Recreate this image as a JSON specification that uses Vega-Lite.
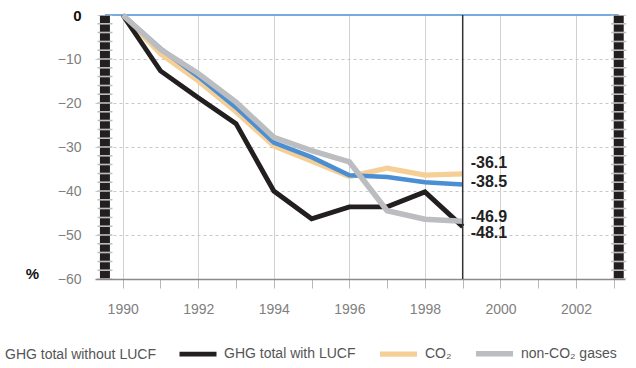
{
  "$schema": "https://vega.github.io/schema/vega-lite/v6.json",
  "width": 530,
  "height": 264,
  "autosize": {"type": "none"},
  "padding": {"left": 95, "top": 15, "right": 11, "bottom": 89},
  "config": {"view": {"stroke": null}, "font": "Liberation Sans"},
  "datasets": {
    "series": [
      {"year": 1990, "value": 0, "series": "CO₂"},
      {"year": 1991, "value": -8.8, "series": "CO₂"},
      {"year": 1992, "value": -15, "series": "CO₂"},
      {"year": 1993, "value": -22, "series": "CO₂"},
      {"year": 1994, "value": -29.8, "series": "CO₂"},
      {"year": 1995, "value": -33.2, "series": "CO₂"},
      {"year": 1996, "value": -36.7, "series": "CO₂"},
      {"year": 1997, "value": -34.8, "series": "CO₂"},
      {"year": 1998, "value": -36.4, "series": "CO₂"},
      {"year": 1999, "value": -36.1, "series": "CO₂"},
      {"year": 1990, "value": 0, "series": "GHG total without LUCF"},
      {"year": 1991, "value": -7.6, "series": "GHG total without LUCF"},
      {"year": 1992, "value": -14, "series": "GHG total without LUCF"},
      {"year": 1993, "value": -21, "series": "GHG total without LUCF"},
      {"year": 1994, "value": -29, "series": "GHG total without LUCF"},
      {"year": 1995, "value": -32.3, "series": "GHG total without LUCF"},
      {"year": 1996, "value": -36.4, "series": "GHG total without LUCF"},
      {"year": 1997, "value": -36.8, "series": "GHG total without LUCF"},
      {"year": 1998, "value": -38, "series": "GHG total without LUCF"},
      {"year": 1999, "value": -38.5, "series": "GHG total without LUCF"},
      {"year": 1990, "value": 0, "series": "GHG total with LUCF"},
      {"year": 1991, "value": -12.7, "series": "GHG total with LUCF"},
      {"year": 1992, "value": -18.8, "series": "GHG total with LUCF"},
      {"year": 1993, "value": -24.7, "series": "GHG total with LUCF"},
      {"year": 1994, "value": -40, "series": "GHG total with LUCF"},
      {"year": 1995, "value": -46.3, "series": "GHG total with LUCF"},
      {"year": 1996, "value": -43.6, "series": "GHG total with LUCF"},
      {"year": 1997, "value": -43.6, "series": "GHG total with LUCF"},
      {"year": 1998, "value": -40.2, "series": "GHG total with LUCF"},
      {"year": 1999, "value": -48.1, "series": "GHG total with LUCF"},
      {"year": 1990, "value": 0, "series": "non-CO₂ gases"},
      {"year": 1991, "value": -7.8, "series": "non-CO₂ gases"},
      {"year": 1992, "value": -13.3, "series": "non-CO₂ gases"},
      {"year": 1993, "value": -19.8, "series": "non-CO₂ gases"},
      {"year": 1994, "value": -27.8, "series": "non-CO₂ gases"},
      {"year": 1995, "value": -30.8, "series": "non-CO₂ gases"},
      {"year": 1996, "value": -33.4, "series": "non-CO₂ gases"},
      {"year": 1997, "value": -44.5, "series": "non-CO₂ gases"},
      {"year": 1998, "value": -46.4, "series": "non-CO₂ gases"},
      {"year": 1999, "value": -46.9, "series": "non-CO₂ gases"}
    ],
    "frame": [
      {"kind": "bar", "year": 1989.53, "value": 0, "bottom": -60},
      {"kind": "bar", "year": 2003.13, "value": 0, "bottom": -60},
      {"kind": "end", "year": 1999, "value": 0, "bottom": -60}
    ],
    "zero": [{"year": 1989.53, "year2": 2003.13, "value": 0}],
    "labels": [
      {"year": 1999, "value": -36.1, "label": "-36.1"},
      {"year": 1999, "value": -38.5, "label": "-38.5"},
      {"year": 1999, "value": -46.9, "label": "-46.9"},
      {"year": 1999, "value": -48.1, "label": "-48.1"}
    ]
  },
  "encoding": {
    "x": {
      "field": "year", "type": "quantitative",
      "scale": {"domain": [1989.267, 2003.296], "nice": false, "zero": false},
      "axis": {
        "title": null,
        "values": [1990, 1991, 1992, 1993, 1994, 1995, 1996, 1997, 1998, 1999, 2000, 2001, 2002, 2003],
        "format": "d",
        "labelExpr": "datum.value % 2 == 0 ? datum.label : ''",
        "labelColor": "#808080",
        "labelFontSize": 14,
        "labelPadding": 14,
        "domainColor": "#8a8a8a",
        "domainWidth": 1.5,
        "tickColor": "#b8b8b8",
        "tickSize": 9,
        "tickWidth": 1,
        "grid": true,
        "gridColor": "#d2d2d2",
        "gridWidth": 1,
        "gridOpacity": {"condition": {"test": "datum.value % 2 == 1", "value": 0}, "value": 1}
      }
    },
    "y": {
      "field": "value", "type": "quantitative",
      "scale": {"domain": [-60, 0], "nice": false, "zero": false},
      "axis": {
        "title": "%",
        "titleAngle": 0,
        "titleX": -63,
        "titleY": 258,
        "titleAlign": "center",
        "titleBaseline": "middle",
        "titleFontSize": 15,
        "titleFontWeight": "bold",
        "titleColor": "#111",
        "values": [0, -10, -20, -30, -40, -50, -60],
        "domain": false,
        "ticks": false,
        "labelPadding": 14,
        "labelFontSize": {"condition": {"test": "datum.value == 0", "value": 15}, "value": 14},
        "labelColor": {"condition": {"test": "datum.value == 0", "value": "#111"}, "value": "#808080"},
        "labelFontWeight": {"condition": {"test": "datum.value == 0", "value": "bold"}, "value": "normal"},
        "grid": true,
        "gridDash": [3, 3],
        "gridColor": "#c8c8c8",
        "gridOpacity": {"condition": {"test": "datum.value == 0 || datum.value == -60", "value": 0}, "value": 1}
      }
    }
  },
  "layer": [
    {
      "data": {"name": "zero"},
      "mark": {"type": "rule", "color": "#4a8fd3", "strokeWidth": 1.5},
      "encoding": {"x2": {"field": "year2"}}
    },
    {
      "data": {"name": "frame"},
      "transform": [{"filter": "datum.kind == 'bar'"}],
      "mark": {"type": "rule", "color": "#bdbdbd", "strokeWidth": 15, "strokeDash": [1.5, 7.3], "strokeDashOffset": 0.75},
      "encoding": {"y2": {"field": "bottom"}}
    },
    {
      "data": {"name": "frame"},
      "transform": [{"filter": "datum.kind == 'bar'"}],
      "mark": {"type": "rule", "color": "#231f20", "strokeWidth": 10, "strokeDash": [7.3, 1.5], "strokeDashOffset": 8.05},
      "encoding": {"y2": {"field": "bottom"}}
    },
    {
      "data": {"name": "series"},
      "mark": {"type": "line", "strokeJoin": "miter"},
      "encoding": {
        "color": {
          "field": "series", "type": "nominal",
          "scale": {
            "domain": ["GHG total without LUCF", "GHG total with LUCF", "CO₂", "non-CO₂ gases"],
            "range": ["#4a8fd3", "#231f20", "#f6cf97", "#bcbdc0"]
          },
          "legend": {
            "title": null,
            "orient": "none",
            "legendX": -137,
            "legendY": 317,
            "direction": "horizontal",
            "symbolType": "stroke",
            "symbolSize": 1369,
            "labelFontSize": 14,
            "labelColor": "#555",
            "labelOffset": 5,
            "columnPadding": 13,
            "padding": 0
          }
        },
        "strokeWidth": {
          "field": "series", "type": "nominal",
          "scale": {
            "domain": ["GHG total without LUCF", "GHG total with LUCF", "CO₂", "non-CO₂ gases"],
            "range": [4.5, 5.5, 3.5, 3.5]
          },
          "legend": {
            "title": null,
            "orient": "none",
            "legendX": -137,
            "legendY": 317,
            "direction": "horizontal",
            "symbolType": "stroke",
            "symbolSize": 1369,
            "labelFontSize": 14,
            "labelColor": "#555",
            "labelOffset": 5,
            "columnPadding": 13,
            "padding": 0
          }
        }
      }
    },
    {
      "data": {"name": "frame"},
      "transform": [{"filter": "datum.kind == 'end'"}],
      "mark": {"type": "rule", "color": "#333333", "strokeWidth": 1.5},
      "encoding": {"y2": {"field": "bottom"}}
    },
    {
      "data": {"name": "labels"},
      "transform": [{"filter": "datum.label == '-36.1'"}],
      "mark": {"type": "text", "align": "left", "baseline": "middle", "dx": 8, "dy": -10.5, "fontSize": 16, "fontWeight": "bold", "color": "#222"},
      "encoding": {"text": {"field": "label"}}
    },
    {
      "data": {"name": "labels"},
      "transform": [{"filter": "datum.label == '-38.5'"}],
      "mark": {"type": "text", "align": "left", "baseline": "middle", "dx": 8, "dy": -2.7, "fontSize": 16, "fontWeight": "bold", "color": "#222"},
      "encoding": {"text": {"field": "label"}}
    },
    {
      "data": {"name": "labels"},
      "transform": [{"filter": "datum.label == '-46.9'"}],
      "mark": {"type": "text", "align": "left", "baseline": "middle", "dx": 8, "dy": -4.7, "fontSize": 16, "fontWeight": "bold", "color": "#222"},
      "encoding": {"text": {"field": "label"}}
    },
    {
      "data": {"name": "labels"},
      "transform": [{"filter": "datum.label == '-48.1'"}],
      "mark": {"type": "text", "align": "left", "baseline": "middle", "dx": 8, "dy": 6.1, "fontSize": 16, "fontWeight": "bold", "color": "#222"},
      "encoding": {"text": {"field": "label"}}
    }
  ]
}
